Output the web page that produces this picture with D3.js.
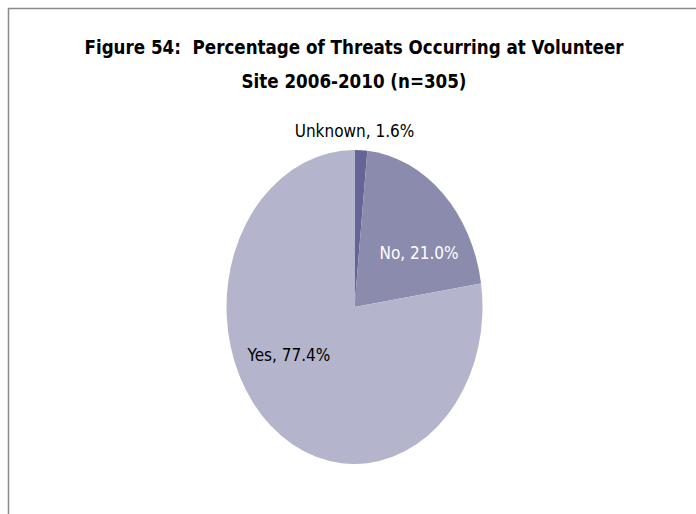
<!DOCTYPE html>
<html><head><meta charset="utf-8">
<script src="https://cdn.jsdelivr.net/npm/d3@7"></script>
<style>body{margin:0;background:#fff}svg{display:block}</style>
</head><body>
<svg id="c" width="696" height="514"></svg>
<script>
const categories = ["Unknown", "No", "Yes"];
const values = [1.6, 21.0, 77.4];
const colors = ["#646496", "#8b8bad", "#b4b5cc"];
const labelColors = ["#000", "#fff", "#000"];
const titleLines = ["Figure 54:  Percentage of Threats Occurring at Volunteer", "Site 2006-2010 (n=305)"];

const svg = d3.select("#c");
const font = "'Liberation Sans Narrow','DejaVu Sans Condensed','Noto Sans',sans-serif";

svg.append("rect").attr("x", 8.5).attr("y", 8.5).attr("width", 800).attr("height", 600)
  .attr("fill", "none").attr("stroke", "#8a8a8a").attr("stroke-width", 1.5);

svg.selectAll("text.title").data(titleLines).join("text").attr("class", "title")
  .attr("x", 354).attr("y", (d, i) => 54 + i * 34)
  .attr("text-anchor", "middle").attr("font-family", font).attr("font-weight", "bold")
  .style("white-space", "pre")
  .attr("font-size", 18.6).attr("fill", "#000").text(d => d);

const cx = 354.5, cy = 307, rx = 128, ry = 157;
const pie = d3.pie().sort(null).value(d => d)(values);
const arc = d3.arc().innerRadius(0).outerRadius(rx);
const g = svg.append("g").attr("transform", `translate(${cx},${cy}) scale(1,${ry / rx})`);
g.selectAll("path").data(pie).join("path").attr("d", arc).attr("fill", (d, i) => colors[i]);

// label positions (center of text) relative to pie center
const labelPos = [[0, -176], [64.5, -54], [-65.5, 48]];
svg.selectAll("text.lbl").data(pie).join("text").attr("class", "lbl")
  .attr("x", (d, i) => cx + labelPos[i][0]).attr("y", (d, i) => cy + labelPos[i][1])
  .attr("dy", "0.35em").attr("text-anchor", "middle")
  .attr("font-family", font).attr("font-size", 17)
  .attr("fill", (d, i) => labelColors[i])
  .text((d, i) => `${categories[i]}, ${values[i].toFixed(1)}%`);
</script>
</body></html>
